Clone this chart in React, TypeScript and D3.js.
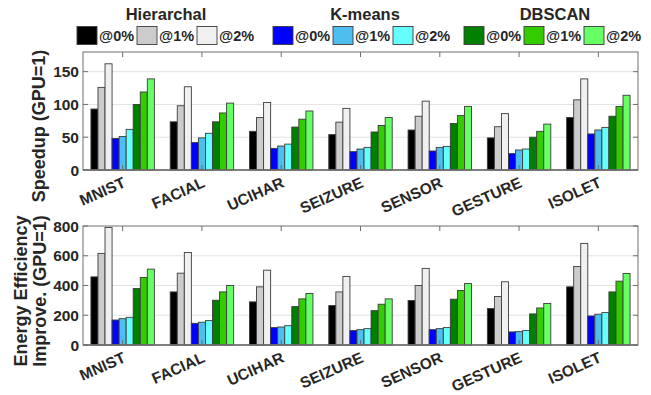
import React from "react";
import * as d3 from "d3";

// Datasets on the x axis
const categories = ["MNIST", "FACIAL", "UCIHAR", "SEIZURE", "SENSOR", "GESTURE", "ISOLET"];

// Speedup over GPU (GPU = 1)
const speedupHier0 = [93, 73.5, 59, 54, 61, 49, 80];
const speedupHier1 = [126, 98, 80, 73, 82, 66, 107];
const speedupHier2 = [162, 127, 103, 94, 105, 86, 139];
const speedupKm0 = [48, 42, 33, 28, 29, 25, 55];
const speedupKm1 = [51, 49, 36.5, 32, 34.5, 30.5, 61];
const speedupKm2 = [62, 56, 39.5, 34.5, 36, 32, 65];
const speedupDb0 = [100, 73.5, 65.5, 58, 71, 50, 82];
const speedupDb1 = [119, 87, 77.5, 68, 83, 59, 97];
const speedupDb2 = [139, 102, 90, 80, 97, 70, 114];

// Energy efficiency improvement over GPU (GPU = 1)
const energyHier0 = [458, 357, 290, 265, 299, 245, 391];
const energyHier1 = [616, 483, 391, 357, 400, 326, 528];
const energyHier2 = [790, 622, 503, 461, 515, 425, 683];
const energyKm0 = [168, 146, 117, 97, 103, 88, 195];
const energyKm1 = [177, 153, 121, 103, 110, 90, 207];
const energyKm2 = [186, 164, 130, 110, 117, 97, 218];
const energyDb0 = [380, 301, 258, 231, 308, 209, 357];
const energyDb1 = [454, 357, 310, 274, 366, 249, 429];
const energyDb2 = [510, 400, 346, 310, 413, 279, 481];

// Legend groups and labels
const methods = ["Hierarchal", "K-means", "DBSCAN"];
const errorLabels = ["@0%", "@1%", "@2%"];

const speedupTicks = [0, 50, 100, 150];
const energyTicks = [0, 200, 400, 600, 800];

const seriesColors = [
  "#000000", "#cccccc", "#f0f0f0",
  "#0000ff", "#4dbeee", "#66ffff",
  "#007f00", "#33cc00", "#66ff66",
];

const speedupSeries = [
  speedupHier0, speedupHier1, speedupHier2,
  speedupKm0, speedupKm1, speedupKm2,
  speedupDb0, speedupDb1, speedupDb2,
];
const energySeries = [
  energyHier0, energyHier1, energyHier2,
  energyKm0, energyKm1, energyKm2,
  energyDb0, energyDb1, energyDb2,
];

const FONT = "'Liberation Sans', Arial, Helvetica, sans-serif";
const AXIS_COLOR = "#6e6e6e";
const TEXT_COLOR = "#262626";
const LEFT = 83;
const RIGHT = 638;

const x = d3.scaleBand<string>().domain(categories).range([LEFT, RIGHT]).padding(0);
const seriesIdx = d3.range(9).map(String);
const inner = d3
  .scaleBand<string>()
  .domain(seriesIdx)
  .range([x.bandwidth() * 0.1, x.bandwidth() * 0.9])
  .padding(0);

type PanelProps = {
  series: number[][];
  top: number;
  bottom: number;
  max: number;
  ticks: number[];
  labelLines: string[];
  labelCenter: number;
  labelX: number[];
};

function Panel({ series, top, bottom, max, ticks, labelLines, labelCenter, labelX }: PanelProps) {
  const y = d3.scaleLinear().domain([0, max]).range([bottom, top]);
  const tickLen = 5;
  return (
    <g>
      {/* grid */}
      {ticks
        .filter((t) => t > 0 && y(t) > top + 1)
        .map((t) => (
          <line key={"g" + t} x1={LEFT} x2={RIGHT} y1={y(t)} y2={y(t)} stroke="#e3e3e3" strokeWidth={1} />
        ))}
      {/* bars */}
      {categories.map((c, ci) => (
        <g key={c} transform={`translate(${x(c)},0)`}>
          {series.map((s, si) => (
            <rect
              key={si}
              x={inner(String(si))!}
              y={y(s[ci])}
              width={inner.bandwidth()}
              height={bottom - y(s[ci])}
              fill={seriesColors[si]}
              stroke="#3c3c3c"
              strokeWidth={0.9}
            />
          ))}
        </g>
      ))}
      {/* box */}
      <rect x={LEFT} y={top} width={RIGHT - LEFT} height={bottom - top} fill="none" stroke={AXIS_COLOR} strokeWidth={1} />
      <line x1={LEFT} x2={RIGHT} y1={bottom} y2={bottom} stroke={AXIS_COLOR} strokeWidth={1.5} />
      {/* x ticks, top and bottom */}
      {categories.map((c) => {
        const cx = x(c)! + x.bandwidth() / 2;
        return (
          <g key={"t" + c}>
            <line x1={cx} x2={cx} y1={top} y2={top + tickLen} stroke={AXIS_COLOR} />
            <line x1={cx} x2={cx} y1={bottom} y2={bottom - tickLen} stroke={AXIS_COLOR} />
          </g>
        );
      })}
      {/* y ticks, left and right */}
      {ticks.map((t) => (
        <g key={"y" + t}>
          <line x1={LEFT} x2={LEFT + tickLen} y1={y(t)} y2={y(t)} stroke={AXIS_COLOR} />
          <line x1={RIGHT} x2={RIGHT - tickLen} y1={y(t)} y2={y(t)} stroke={AXIS_COLOR} />
          <text
            x={LEFT - 4}
            y={y(t)}
            dy="0.36em"
            textAnchor="end"
            fontFamily={FONT}
            fontWeight="bold"
            fontSize={15.5}
            fill={TEXT_COLOR}
          >
            {t}
          </text>
        </g>
      ))}
      {/* category labels */}
      {categories.map((c) => {
        const cx = x(c)! + x.bandwidth() / 2;
        return (
          <text
            key={"l" + c}
            transform={`translate(${cx + 4},${bottom + 16.5}) rotate(-24)`}
            textAnchor="end"
            fontFamily={FONT}
            fontWeight="bold"
            fontSize={15.5}
            fill={TEXT_COLOR}
          >
            {c}
          </text>
        );
      })}
      {/* y axis title */}
      {labelLines.map((line, i) => (
        <text
          key={"yl" + i}
          transform={`translate(${labelX[i]},${labelCenter}) rotate(-90)`}
          textAnchor="middle"
          fontFamily={FONT}
          fontWeight="bold"
          fontSize={18}
          fill={TEXT_COLOR}
        >
          {line}
        </text>
      ))}
    </g>
  );
}

function Legend() {
  const groupStarts = [77, 273, 464];
  const titleCenters = [166, 365, 555];
  const pitch = 60;
  return (
    <g>
      {methods.map((m, mi) => (
        <g key={m}>
          <text
            x={titleCenters[mi]}
            y={19.5}
            textAnchor="middle"
            fontFamily={FONT}
            fontWeight="bold"
            fontSize={16.5}
            fill={TEXT_COLOR}
          >
            {m}
          </text>
          {errorLabels.map((lab, li) => {
            const sx = groupStarts[mi] + li * pitch;
            return (
              <g key={lab}>
                <rect
                  x={sx}
                  y={26.5}
                  width={20}
                  height={18}
                  fill={seriesColors[mi * 3 + li]}
                  stroke="#3c3c3c"
                  strokeWidth={0.9}
                />
                <text
                  x={sx + 22}
                  y={40.5}
                  fontFamily={FONT}
                  fontWeight="bold"
                  fontSize={14.5}
                  fill={TEXT_COLOR}
                >
                  {lab}
                </text>
              </g>
            );
          })}
        </g>
      ))}
    </g>
  );
}

export default function App() {
  return (
    <svg
      width={651}
      height={395}
      viewBox="0 0 651 395"
      style={{ position: "absolute", left: 0, top: 0, background: "#ffffff" }}
    >
      <rect x={0} y={0} width={651} height={395} fill="#ffffff" />
      <Legend />
      <Panel
        series={speedupSeries}
        top={52}
        bottom={170}
        max={180}
        ticks={speedupTicks}
        labelLines={["Speedup (GPU=1)"]}
        labelCenter={126}
        labelX={[45]}
      />
      <Panel
        series={energySeries}
        top={226}
        bottom={345}
        max={800}
        ticks={energyTicks}
        labelLines={["Energy Efficiency", "Improve. (GPU=1)"]}
        labelCenter={291}
        labelX={[27, 46]}
      />
    </svg>
  );
}
